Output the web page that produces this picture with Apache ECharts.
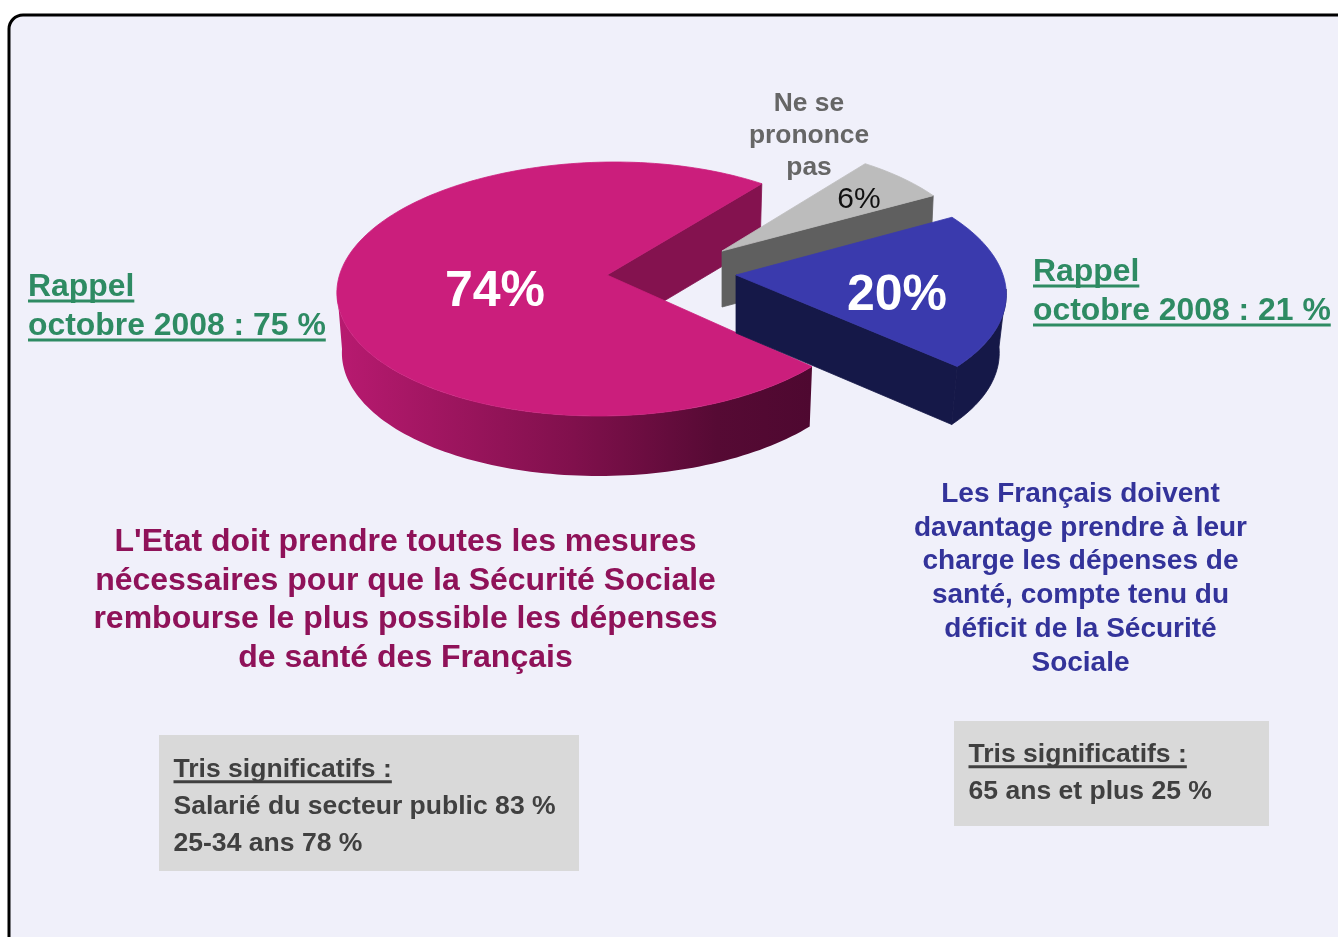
<!DOCTYPE html>
<html><head><meta charset="utf-8">
<style>html,body{margin:0;padding:0;background:#fff;overflow:hidden}#c{width:1338px;height:937px}</style>
<script src="https://cdn.jsdelivr.net/npm/echarts@6/dist/echarts.min.js"></script>
</head><body><div id="c"></div>
<script>
// ---- data ----
const categories = ["L'Etat doit prendre", "Les Français doivent", "Ne se prononce pas"];
const shares = [74, 20, 6];
const startAngle = 56;
const drawOrder = [0, 2, 1];
const rappelLeft = ["Rappel", "octobre 2008 : 75 %"];
const rappelRight = ["Rappel", "octobre 2008 : 21 %"];
const nspLines = ["Ne se", "prononce", "pas"];
const etatLines = ["L'Etat doit prendre toutes les mesures", "nécessaires pour que la Sécurité Sociale", "rembourse le plus possible les dépenses", "de santé des Français"];
const francaisLines = ["Les Français doivent", "davantage prendre à leur", "charge les dépenses de", "santé, compte tenu du", "déficit de la Sécurité", "Sociale"];
const trisLeft = ["Tris significatifs :", "Salarié du secteur public 83 %", "25-34 ans 78 %"];
const trisRight = ["Tris significatifs :", "65 ans et plus 25 %"];

// ---- layout & style of each slice, same order as categories ----
const sliceStyle = [
  {cx:607, cy:289, apexY:275, depth:60, rx:270, rxRight:265, rxB:265, rxBRight:262, ry:127, skew:8,
   labelX:495, labelY:292, labelFont:'bold 50px "Liberation Sans"', labelFill:'#fff', top:'#cb1e7c', inner:'#84124f',
   outer:[[0,'#b81a70'],[0.5,'#80104c'],[0.8,'#560a34'],[1,'#4e0830']]},
  {cx:736, cy:289, apexY:275, depth:58, rx:270, rxRight:270, rxB:263, rxBRight:263, ry:127, skew:-12,
   labelX:897, labelY:296, labelFont:'bold 50px "Liberation Sans"', labelFill:'#fff', top:'#3a3aad', inner:'#151848',
   outer:'#151848'},
  {cx:722, cy:264, apexY:251, depth:56, rx:256, rxRight:256, rxB:253, rxBRight:253, ry:121, skew:0,
   labelX:859, labelY:200, labelFont:'30px "Liberation Sans"', labelFill:'#111', top:'#bcbcbc', inner:'#5f5f5f',
   outer:'#5f5f5f'}
];

// cumulative angles from the shares
const total = shares.reduce((a, b) => a + b, 0);
let running = startAngle;
const spans = shares.map(v => { const a0 = running; running += v / total * 360; return [a0, running]; });

const rad = d => d * Math.PI / 180;
function rimPoint(s, deg, bottom) {
  const a = rad(deg), c = Math.cos(a), sn = Math.sin(a);
  const r = bottom ? (c > 0 ? s.rxBRight : s.rxB) : (c > 0 ? s.rxRight : s.rx);
  return [s.cx + r * c + s.skew * sn, s.cy + (bottom ? s.depth : 0) - s.ry * sn];
}
function arc(s, a0, a1, bottom) {
  const pts = [], n = Math.max(2, Math.ceil(Math.abs(a1 - a0) / 1.5));
  for (let i = 0; i <= n; i++) pts.push(rimPoint(s, a0 + (a1 - a0) * i / n, bottom));
  return pts;
}
function renderSlice(params, api) {
  const idx = api.value(0), s = sliceStyle[idx], a0 = spans[idx][0], a1 = spans[idx][1];
  const apex = [s.cx, s.apexY], apexB = [s.cx, s.apexY + s.depth];
  const children = [];
  const poly = (points, fill) => children.push({type:'polygon', shape:{points},
    style: typeof fill === 'string' ? {fill, stroke:fill, lineWidth:0.8} : {fill, stroke:null}});
  const edge = a => poly([apex, rimPoint(s, a, false), rimPoint(s, a, true), apexB], s.inner);
  if (Math.cos(rad(a0)) > 0) edge(a0);
  if (Math.cos(rad(a1)) < 0) edge(a1);
  // visible rim: the part of the arc whose normal points toward the viewer
  for (let k = -1; k <= 1; k++) {
    const lo = Math.max(a0, 180 + k * 360), hi = Math.min(a1, 360 + k * 360);
    if (hi > lo) {
      const t = arc(s, lo, hi, false), b = arc(s, hi, lo, true);
      const fill = typeof s.outer === 'string' ? s.outer
        : new echarts.graphic.LinearGradient(0, 0, 1, 0, s.outer.map(o => ({offset:o[0], color:o[1]})));
      poly(t.concat(b), fill);
    }
  }
  poly([apex].concat(arc(s, a0, a1, false)), s.top);
  children.push({type:'text', style:{text:api.value(1) + '%', x:s.labelX, y:s.labelY, font:s.labelFont, fill:s.labelFill, align:'center', verticalAlign:'middle'}});
  return {type:'group', children};
}

// ---- text helpers ----
const measure = document.createElement('canvas').getContext('2d');
function lines(list, x, y0, step, size, fill, align, underlined) {
  const font = 'bold ' + size + 'px "Liberation Sans"', out = [];
  list.forEach((t, i) => {
    const y = y0 + step * i;
    out.push({type:'text', z:5, style:{text:t, x, y, font, fill, align, verticalAlign:'middle'}});
    if (underlined && underlined.includes(i)) {
      measure.font = font;
      out.push({type:'rect', z:5, shape:{x, y:y + size * 0.39, width:measure.measureText(t).width, height:3}, style:{fill}});
    }
  });
  return out;
}
const green = '#2e8b63', boxText = '#404040';
const graphics = [
  {type:'rect', z:0, shape:{x:9, y:15, width:1500, height:1100, r:14}, style:{fill:'#f0f0fa', stroke:'#000', lineWidth:3}},
  {type:'rect', z:1, shape:{x:159, y:735, width:420, height:136}, style:{fill:'#d9d9d9'}},
  {type:'rect', z:1, shape:{x:954, y:721, width:315, height:105}, style:{fill:'#d9d9d9'}},
  ...lines(rappelLeft, 28, 287, 39, 31.9, green, 'left', [0, 1]),
  ...lines(rappelRight, 1033, 272, 39, 31.9, green, 'left', [0, 1]),
  ...lines(nspLines, 809, 104, 32, 26.4, '#666666', 'center'),
  ...lines(etatLines, 405.5, 542, 38.7, 32, '#8f1259', 'center'),
  ...lines(francaisLines, 1080.5, 494, 33.8, 28, '#33339a', 'center'),
  ...lines(trisLeft, 173.5, 770, 37, 26.55, boxText, 'left', [0]),
  ...lines(trisRight, 968.5, 755, 37, 26.55, boxText, 'left', [0])
];

const chart = echarts.init(document.getElementById('c'), null, {renderer:'canvas', width:1338, height:937});
chart.setOption({
  animation:false,
  backgroundColor:'#ffffff',
  graphic:{elements:graphics},
  series:[{
    type:'custom', coordinateSystem:'none', silent:true, z:3,
    renderItem:renderSlice,
    encode:{itemName:2},
    data:drawOrder.map(i => [i, shares[i], categories[i]])
  }]
});
</script></body></html>
